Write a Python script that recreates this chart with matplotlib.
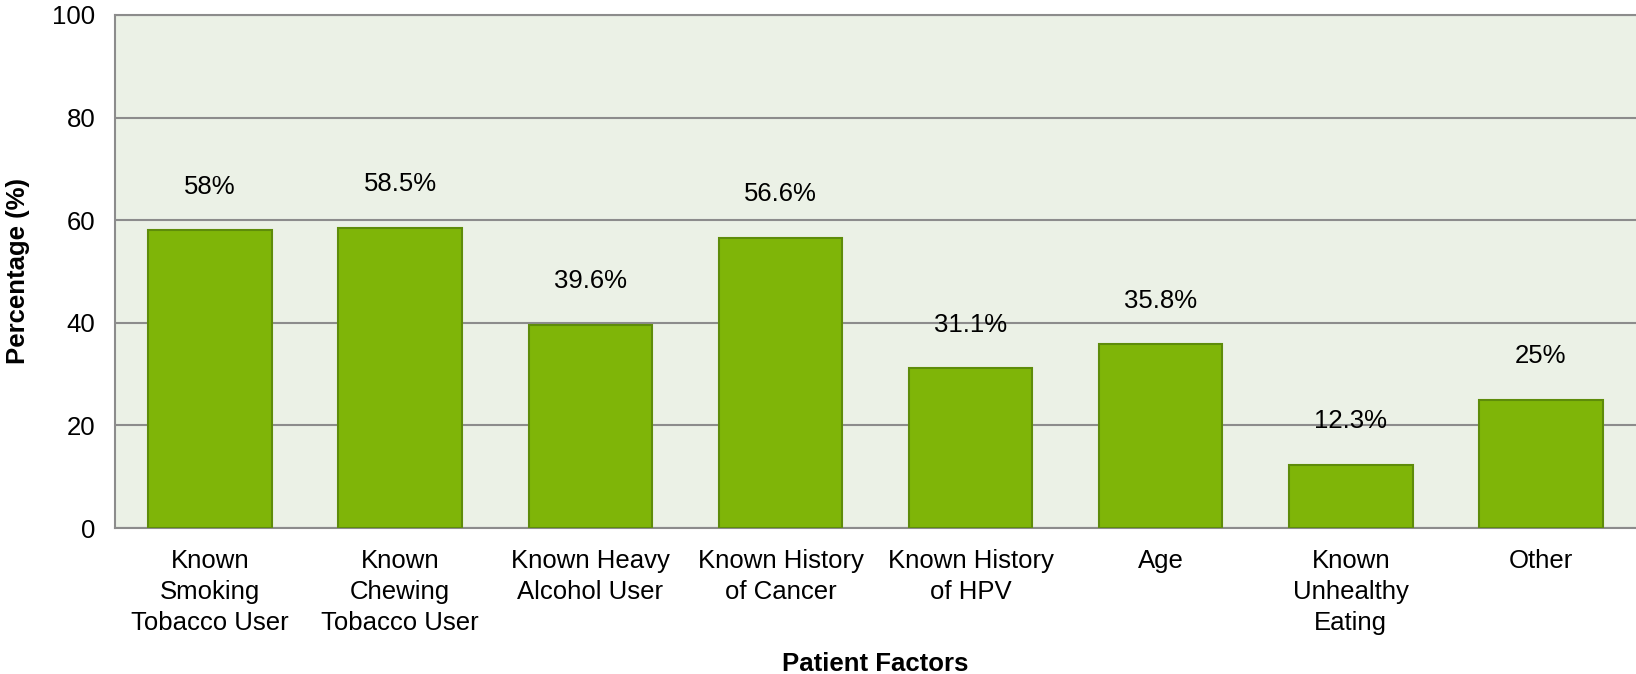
import matplotlib.pyplot as plt

plt.rcParams['font.family'] = ['Liberation Sans', 'DejaVu Sans']

# chart data
categories = ['Known\nSmoking\nTobacco User', 'Known\nChewing\nTobacco User',
              'Known Heavy\nAlcohol User', 'Known History\nof Cancer',
              'Known History\nof HPV', 'Age', 'Known\nUnhealthy\nEating', 'Other']
values = [58, 58.5, 39.6, 56.6, 31.1, 35.8, 12.3, 25]
value_labels = ['58%', '58.5%', '39.6%', '56.6%', '31.1%', '35.8%', '12.3%', '25%']
y_ticks = [0, 20, 40, 60, 80, 100]

fig = plt.figure(figsize=(16.36, 6.74), dpi=100)
ax = fig.add_axes([115 / 1636, 1 - 528 / 674, 1521 / 1636, 513 / 674])
ax.set_facecolor('#EBF1E6')

x = range(len(categories))
ax.bar(x, values, width=0.65, color='#7FB508', edgecolor='#5E8C0A', linewidth=1.5, zorder=3)

# value labels above bars
for i, (v, lab) in enumerate(zip(values, value_labels)):
    ax.text(i, v + 8.5, lab, ha='center', va='center', fontsize=18.5)

ax.set_xlim(-0.5, len(categories) - 0.5)
ax.set_ylim(0, 100)
ax.set_yticks(y_ticks)
ax.set_xticks(list(x))
ax.set_xticklabels(categories, fontsize=18.5, linespacing=1.37)
ax.tick_params(axis='y', labelsize=18.5, length=0, pad=14)
ax.tick_params(axis='x', length=0, pad=15)

ax.yaxis.grid(True, color='#8C8C8C', linewidth=1.5, zorder=0)
ax.set_axisbelow(True)

ax.spines['right'].set_visible(False)
for side in ['left', 'bottom', 'top']:
    ax.spines[side].set_color('#8C8C8C')
    ax.spines[side].set_linewidth(1.5)

ax.set_ylabel('Percentage (%)', fontsize=18.5, fontweight='bold', labelpad=16)
ax.set_xlabel('Patient Factors', fontsize=18.5, fontweight='bold', labelpad=12)

fig.savefig('out.png', dpi=100)
